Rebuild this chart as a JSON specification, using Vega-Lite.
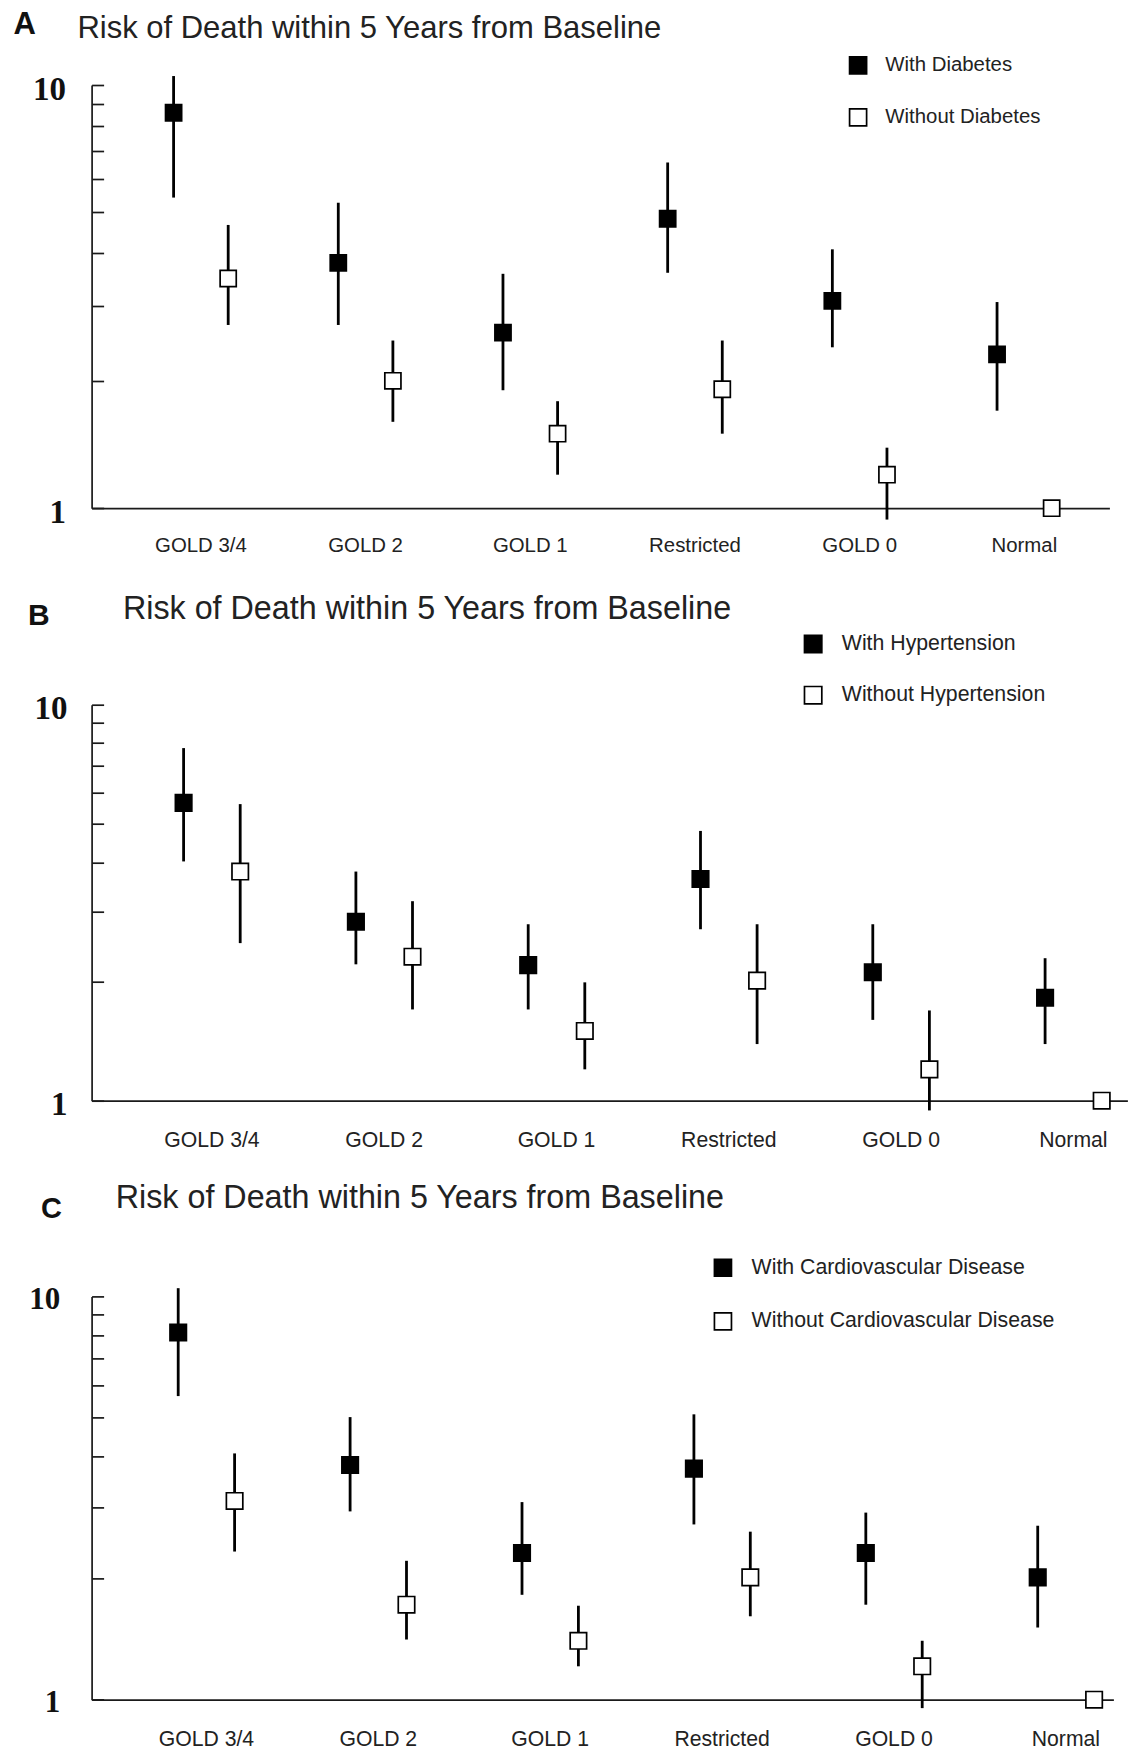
{
  "$schema": "https://vega.github.io/schema/vega-lite/v6.json",
  "background": "white",
  "padding": {"left": 12.6, "top": 8, "right": 0, "bottom": 0},
  "bounds": "flush",
  "spacing": 195.7,
  "config": {
    "view": {"stroke": null},
    "axis": {"grid": false, "domainColor": "#1a1a1a", "domainWidth": 1.7},
    "legend": {"labelLimit": 0},
    "point": {"opacity": 1}
  },
  "data": {
    "values": [
      {"panel": "A", "stage": "GOLD 3/4", "group": "With Diabetes", "est": 8.6, "lo": 5.42, "hi": 10.5},
      {"panel": "A", "stage": "GOLD 3/4", "group": "Without Diabetes", "est": 3.49, "lo": 2.71, "hi": 4.67},
      {"panel": "A", "stage": "GOLD 2", "group": "With Diabetes", "est": 3.8, "lo": 2.71, "hi": 5.27},
      {"panel": "A", "stage": "GOLD 2", "group": "Without Diabetes", "est": 2.0, "lo": 1.6, "hi": 2.49},
      {"panel": "A", "stage": "GOLD 1", "group": "With Diabetes", "est": 2.6, "lo": 1.9, "hi": 3.58},
      {"panel": "A", "stage": "GOLD 1", "group": "Without Diabetes", "est": 1.5, "lo": 1.2, "hi": 1.79},
      {"panel": "A", "stage": "Restricted", "group": "With Diabetes", "est": 4.83, "lo": 3.6, "hi": 6.56},
      {"panel": "A", "stage": "Restricted", "group": "Without Diabetes", "est": 1.91, "lo": 1.5, "hi": 2.49},
      {"panel": "A", "stage": "GOLD 0", "group": "With Diabetes", "est": 3.09, "lo": 2.4, "hi": 4.09},
      {"panel": "A", "stage": "GOLD 0", "group": "Without Diabetes", "est": 1.2, "lo": 0.94, "hi": 1.39},
      {"panel": "A", "stage": "Normal", "group": "With Diabetes", "est": 2.31, "lo": 1.7, "hi": 3.07},
      {"panel": "A", "stage": "Normal", "group": "Without Diabetes", "est": 1.0, "lo": 1.0, "hi": 1.0},
      {"panel": "B", "stage": "GOLD 3/4", "group": "With Hypertension", "est": 5.65, "lo": 4.02, "hi": 7.77},
      {"panel": "B", "stage": "GOLD 3/4", "group": "Without Hypertension", "est": 3.79, "lo": 2.5, "hi": 5.61},
      {"panel": "B", "stage": "GOLD 2", "group": "With Hypertension", "est": 2.83, "lo": 2.21, "hi": 3.79},
      {"panel": "B", "stage": "GOLD 2", "group": "Without Hypertension", "est": 2.31, "lo": 1.7, "hi": 3.19},
      {"panel": "B", "stage": "GOLD 1", "group": "With Hypertension", "est": 2.2, "lo": 1.7, "hi": 2.79},
      {"panel": "B", "stage": "GOLD 1", "group": "Without Hypertension", "est": 1.5, "lo": 1.2, "hi": 1.99},
      {"panel": "B", "stage": "Restricted", "group": "With Hypertension", "est": 3.63, "lo": 2.71, "hi": 4.8},
      {"panel": "B", "stage": "Restricted", "group": "Without Hypertension", "est": 2.01, "lo": 1.39, "hi": 2.79},
      {"panel": "B", "stage": "GOLD 0", "group": "With Hypertension", "est": 2.11, "lo": 1.6, "hi": 2.79},
      {"panel": "B", "stage": "GOLD 0", "group": "Without Hypertension", "est": 1.2, "lo": 0.945, "hi": 1.69},
      {"panel": "B", "stage": "Normal", "group": "With Hypertension", "est": 1.82, "lo": 1.39, "hi": 2.29},
      {"panel": "B", "stage": "Normal", "group": "Without Hypertension", "est": 1.0, "lo": 1.0, "hi": 1.0},
      {"panel": "C", "stage": "GOLD 3/4", "group": "With Cardiovascular Disease", "est": 8.14, "lo": 5.66, "hi": 10.48},
      {"panel": "C", "stage": "GOLD 3/4", "group": "Without Cardiovascular Disease", "est": 3.11, "lo": 2.33, "hi": 4.08},
      {"panel": "C", "stage": "GOLD 2", "group": "With Cardiovascular Disease", "est": 3.82, "lo": 2.93, "hi": 5.02},
      {"panel": "C", "stage": "GOLD 2", "group": "Without Cardiovascular Disease", "est": 1.72, "lo": 1.41, "hi": 2.21},
      {"panel": "C", "stage": "GOLD 1", "group": "With Cardiovascular Disease", "est": 2.31, "lo": 1.82, "hi": 3.09},
      {"panel": "C", "stage": "GOLD 1", "group": "Without Cardiovascular Disease", "est": 1.4, "lo": 1.21, "hi": 1.71},
      {"panel": "C", "stage": "Restricted", "group": "With Cardiovascular Disease", "est": 3.74, "lo": 2.72, "hi": 5.1},
      {"panel": "C", "stage": "Restricted", "group": "Without Cardiovascular Disease", "est": 2.01, "lo": 1.61, "hi": 2.61},
      {"panel": "C", "stage": "GOLD 0", "group": "With Cardiovascular Disease", "est": 2.31, "lo": 1.72, "hi": 2.91},
      {"panel": "C", "stage": "GOLD 0", "group": "Without Cardiovascular Disease", "est": 1.21, "lo": 0.953, "hi": 1.4},
      {"panel": "C", "stage": "Normal", "group": "With Cardiovascular Disease", "est": 2.01, "lo": 1.51, "hi": 2.7},
      {"panel": "C", "stage": "Normal", "group": "Without Cardiovascular Disease", "est": 1.0, "lo": 1.0, "hi": 1.0}
    ]
  },
  "resolve": {
    "scale": {"x": "independent", "xOffset": "independent", "y": "independent", "fill": "independent"},
    "legend": {"fill": "independent"}
  },
  "vconcat": [
    {
      "width": 1017.8,
      "height": 423.2,
      "title": {"text": "Risk of Death within 5 Years from Baseline", "anchor": "start", "frame": "group", "font": "Liberation Sans", "fontSize": 31, "fontWeight": "normal", "color": "#222", "baseline": "alphabetic", "offset": 0, "dx": -14.2, "dy": 60.2},
      "transform": [{"filter": "datum.panel === 'A'"}],
      "encoding": {
        "x": {"field": "stage", "type": "nominal", "sort": ["GOLD 3/4", "GOLD 2", "GOLD 1", "Restricted", "GOLD 0", "Normal"],
              "scale": {"paddingInner": 0, "paddingOuter": 0.09, "align": 0.909},
              "axis": {"title": null, "labelAngle": 0, "ticks": false, "labelFont": "Liberation Sans", "labelFontSize": 20.4, "labelColor": "#222", "labelPadding": 37, "labelBaseline": "middle"}},
        "xOffset": {"field": "group", "type": "nominal", "sort": ["With Diabetes", "Without Diabetes"], "scale": {"paddingInner": 0, "paddingOuter": 0.508}}
      },
      "layer": [
        {
          "mark": {"type": "rule", "strokeWidth": 2.8, "color": "#000"},
          "encoding": {
            "y": {"field": "lo", "type": "quantitative", "title": "A",
                  "scale": {"type": "log", "domain": [1, 10], "nice": false},
                  "axis": {"values": [1, 2, 3, 4, 5, 6, 7, 8, 9, 10], "labelExpr": "datum.value == 1 || datum.value == 10 ? datum.value + '' : ''",
                           "tickSize": -12, "tickWidth": 1.7, "tickColor": "#1a1a1a",
                           "labelFont": "Liberation Serif", "labelFontWeight": "bold", "labelFontSize": 33, "labelColor": "#111",
                           "labelPadding": 38, "labelBaseline": "middle", "labelOffset": 4, "labelFlush": false, "labelOverlap": false,
                           "titleAngle": 0, "titleX": -78.6, "titleY": -51.7, "titleAlign": "left", "titleBaseline": "alphabetic",
                           "titleFont": "Liberation Sans", "titleFontWeight": "bold", "titleFontSize": 31, "titleColor": "#111"}},
            "y2": {"field": "hi"}
          }
        },
        {
          "mark": {"type": "point", "shape": "square", "filled": true, "size": 260, "stroke": "#000", "strokeWidth": 1.7, "opacity": 1},
          "encoding": {
            "y": {"field": "est", "type": "quantitative", "title": "A", "scale": {"type": "log", "domain": [1, 10], "nice": false}},
            "fill": {"field": "group", "type": "nominal", "scale": {"domain": ["With Diabetes", "Without Diabetes"], "range": ["#000000", "#ffffff"]},
                     "legend": {"title": null, "orient": "none", "legendX": 756.3, "legendY": -29.9, "direction": "vertical", "symbolType": "square", "symbolSize": 290,
                                "symbolStrokeColor": "#000", "symbolStrokeWidth": 1.7, "labelFont": "Liberation Sans", "labelFontSize": 20.4, "labelColor": "#222",
                                "labelOffset": 17, "rowPadding": 27, "padding": 0, "labelLimit": 0}}
          }
        }
      ]
    },
    {
      "width": 1035.8,
      "height": 396,
      "title": {"text": "Risk of Death within 5 Years from Baseline", "anchor": "start", "frame": "group", "font": "Liberation Sans", "fontSize": 32.3, "fontWeight": "normal", "color": "#222", "baseline": "alphabetic", "offset": 0, "dx": 31.3, "dy": 51},
      "transform": [{"filter": "datum.panel === 'B'"}],
      "encoding": {
        "x": {"field": "stage", "type": "nominal", "sort": ["GOLD 3/4", "GOLD 2", "GOLD 1", "Restricted", "GOLD 0", "Normal"],
              "scale": {"paddingInner": 0.3732, "paddingOuter": 0.1924, "align": 1},
              "axis": {"title": null, "labelAngle": 0, "ticks": false, "labelFont": "Liberation Sans", "labelFontSize": 21.2, "labelColor": "#222", "labelPadding": 40, "labelBaseline": "middle"}},
        "xOffset": {"field": "group", "type": "nominal", "sort": ["With Hypertension", "Without Hypertension"], "scale": {"paddingInner": 0.092, "paddingOuter": 0}}
      },
      "layer": [
        {
          "mark": {"type": "rule", "strokeWidth": 2.8, "color": "#000"},
          "encoding": {
            "y": {"field": "lo", "type": "quantitative", "title": "B",
                  "scale": {"type": "log", "domain": [1, 10], "nice": false},
                  "axis": {"values": [1, 2, 3, 4, 5, 6, 7, 8, 9, 10], "labelExpr": "datum.value == 1 || datum.value == 10 ? datum.value + '' : ''",
                           "tickSize": -12, "tickWidth": 1.7, "tickColor": "#1a1a1a",
                           "labelFont": "Liberation Serif", "labelFontWeight": "bold", "labelFontSize": 33, "labelColor": "#111",
                           "labelPadding": 36.5, "labelBaseline": "middle", "labelOffset": 4, "labelFlush": false, "labelOverlap": false,
                           "titleAngle": 0, "titleX": -64.2, "titleY": -80, "titleAlign": "left", "titleBaseline": "alphabetic",
                           "titleFont": "Liberation Sans", "titleFontWeight": "bold", "titleFontSize": 30, "titleColor": "#111"}},
            "y2": {"field": "hi"}
          }
        },
        {
          "mark": {"type": "point", "shape": "square", "filled": true, "size": 270, "stroke": "#000", "strokeWidth": 1.7, "opacity": 1},
          "encoding": {
            "y": {"field": "est", "type": "quantitative", "title": "B", "scale": {"type": "log", "domain": [1, 10], "nice": false}},
            "fill": {"field": "group", "type": "nominal", "scale": {"domain": ["With Hypertension", "Without Hypertension"], "range": ["#000000", "#ffffff"]},
                     "legend": {"title": null, "orient": "none", "legendX": 710.9, "legendY": -71.4, "direction": "vertical", "symbolType": "square", "symbolSize": 300,
                                "symbolStrokeColor": "#000", "symbolStrokeWidth": 1.7, "labelFont": "Liberation Sans", "labelFontSize": 21.3, "labelColor": "#222",
                                "labelOffset": 18, "rowPadding": 26.2, "padding": 0, "labelLimit": 0}}
          }
        }
      ]
    },
    {
      "width": 1021.8,
      "height": 403.3,
      "title": {"text": "Risk of Death within 5 Years from Baseline", "anchor": "start", "frame": "group", "font": "Liberation Sans", "fontSize": 32.3, "fontWeight": "normal", "color": "#222", "baseline": "alphabetic", "offset": 0, "dx": 24.1, "dy": 45.9},
      "transform": [{"filter": "datum.panel === 'C'"}],
      "encoding": {
        "x": {"field": "stage", "type": "nominal", "sort": ["GOLD 3/4", "GOLD 2", "GOLD 1", "Restricted", "GOLD 0", "Normal"],
              "scale": {"paddingInner": 0.4476, "paddingOuter": 0.1958, "align": 1},
              "axis": {"title": null, "labelAngle": 0, "ticks": false, "labelFont": "Liberation Sans", "labelFontSize": 21.2, "labelColor": "#222", "labelPadding": 40, "labelBaseline": "middle"}},
        "xOffset": {"field": "group", "type": "nominal", "sort": ["With Cardiovascular Disease", "Without Cardiovascular Disease"], "scale": {"paddingInner": 0.316, "paddingOuter": 0}}
      },
      "layer": [
        {
          "mark": {"type": "rule", "strokeWidth": 2.8, "color": "#000"},
          "encoding": {
            "y": {"field": "lo", "type": "quantitative", "title": "C",
                  "scale": {"type": "log", "domain": [1, 10], "nice": false},
                  "axis": {"values": [1, 2, 3, 4, 5, 6, 7, 8, 9, 10], "labelExpr": "datum.value == 1 || datum.value == 10 ? datum.value + '' : ''",
                           "tickSize": -12, "tickWidth": 1.7, "tickColor": "#1a1a1a",
                           "labelFont": "Liberation Serif", "labelFontWeight": "bold", "labelFontSize": 31, "labelColor": "#111",
                           "labelPadding": 43.8, "labelBaseline": "middle", "labelOffset": 3, "labelFlush": false, "labelOverlap": false,
                           "titleAngle": 0, "titleX": -51.2, "titleY": -78.7, "titleAlign": "left", "titleBaseline": "alphabetic",
                           "titleFont": "Liberation Sans", "titleFontWeight": "bold", "titleFontSize": 29, "titleColor": "#111"}},
            "y2": {"field": "hi"}
          }
        },
        {
          "mark": {"type": "point", "shape": "square", "filled": true, "size": 270, "stroke": "#000", "strokeWidth": 1.7, "opacity": 1},
          "encoding": {
            "y": {"field": "est", "type": "quantitative", "title": "C", "scale": {"type": "log", "domain": [1, 10], "nice": false}},
            "fill": {"field": "group", "type": "nominal", "scale": {"domain": ["With Cardiovascular Disease", "Without Cardiovascular Disease"], "range": ["#000000", "#ffffff"]},
                     "legend": {"title": null, "orient": "none", "legendX": 620.7, "legendY": -39.3, "direction": "vertical", "symbolType": "square", "symbolSize": 290,
                                "symbolStrokeColor": "#000", "symbolStrokeWidth": 1.7, "labelFont": "Liberation Sans", "labelFontSize": 21.3, "labelColor": "#222",
                                "labelOffset": 18, "rowPadding": 28.7, "padding": 0, "labelLimit": 0}}
          }
        }
      ]
    }
  ]
}
